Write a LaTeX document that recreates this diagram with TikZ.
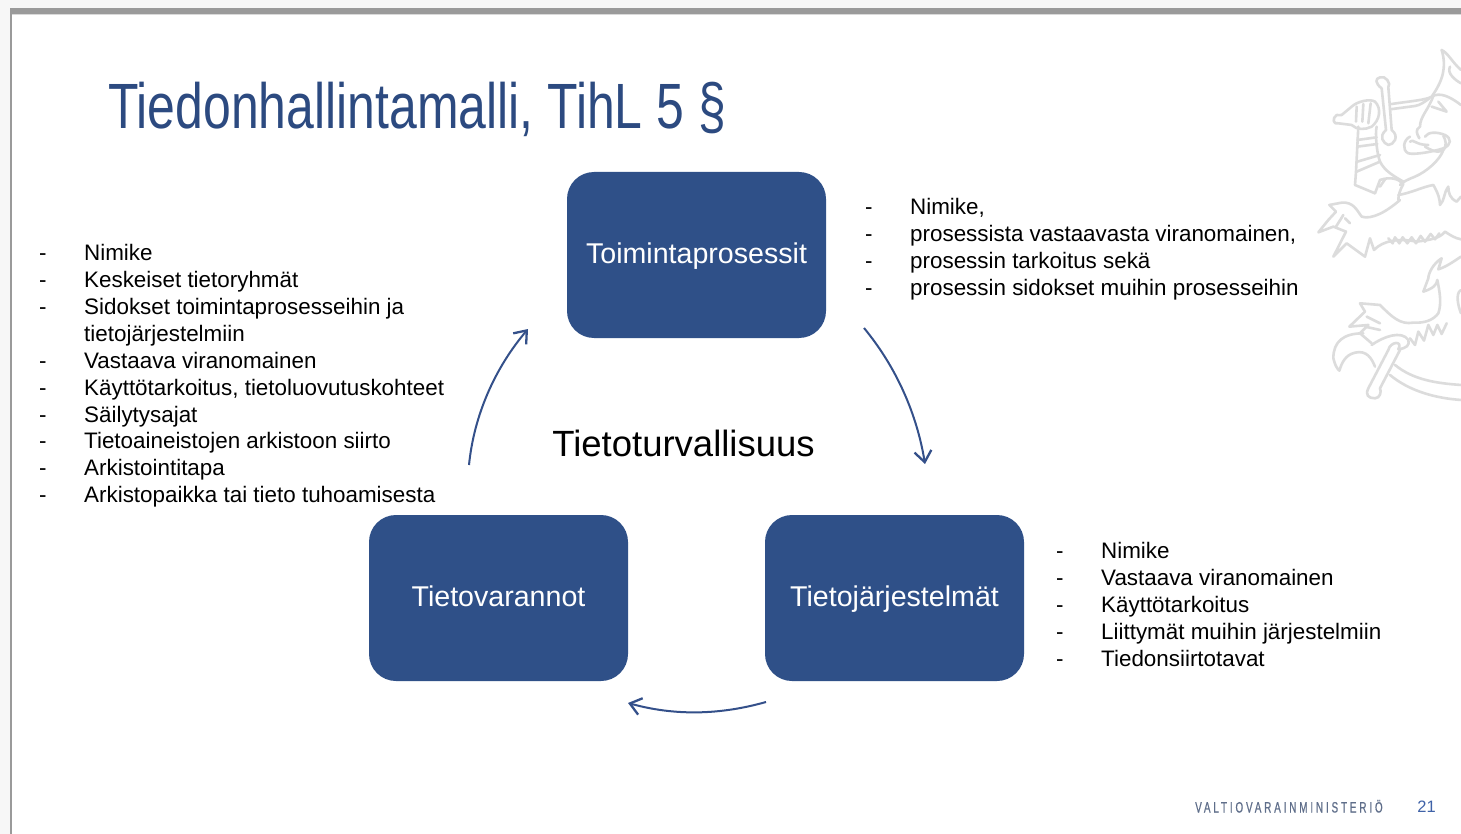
\documentclass[tikz,border=0pt]{standalone}
\usepackage{fontspec}
\setmainfont{Liberation Sans}
\newfontfamily\narrowf[FakeStretch=0.78]{Liberation Sans}
\newfontfamily\footf[FakeStretch=0.66,LetterSpace=19,FakeBold=0.6]{Liberation Sans}
\usetikzlibrary{arrows.meta}
\definecolor{boxblue}{HTML}{2F5088}
\definecolor{titleblue}{HTML}{2C4A80}
\definecolor{arrowblue}{HTML}{34508A}
\definecolor{lionline}{HTML}{DCDCDC}
\definecolor{framegray}{HTML}{9A9A9A}
\definecolor{footgray}{HTML}{5F6E8A}
\definecolor{pagenumblue}{HTML}{3F62A8}
\tikzset{
  procbox/.style={fill=boxblue,draw=none,rounded corners=27pt,minimum width=259pt,minimum height=166pt,text=white,font=\fontsize{28.6}{32}\selectfont,inner sep=0pt},
  boxtext/.style={text height=24pt,text depth=7pt},
  listnode/.style={anchor=north west,align=left,inner sep=0pt,font=\fontsize{22.4}{26.85}\selectfont,text=black},
  cyc/.style={draw=arrowblue,line width=2pt,-{Straight Barb[length=11pt,width=17pt,line width=2.3pt]}},
  lion/.style={draw=lionline,line width=2.6pt,line join=round,line cap=round}
}
\newcommand{\dd}{\makebox[45pt][l]{-}}
\newcommand{\nd}{\hspace*{45pt}}
\begin{document}
\begin{tikzpicture}[x=1pt,y=-1pt]
\useasboundingbox (0,0) rectangle (1461,834);
\fill[white] (0,0) rectangle (1461,834);
\fill[black!3] (0,0) rectangle (1461,8);
\fill[black!3] (0,0) rectangle (10,834);
\fill[framegray] (10,8) rectangle (1461,14);
\fill[black!15] (12,14) rectangle (1461,15);
\fill[framegray] (10,8) rectangle (12,834);
% lion emblem
\begin{scope}[shift={(1300,30)},x=0.3333pt,y=-0.3333pt]
\clip (0,0) rectangle (483,1170);
\draw[lion] (425,60) .. controls (445,70) and (455,95) .. (483,120);
\draw[lion] (425,60) .. controls (440,110) and (430,150) .. (395,200) .. controls (380,210) and (320,215) .. (275,222);
\draw[lion] (450,110) .. controls (440,130) and (465,150) .. (483,160);
\draw[lion] (395,200) .. controls (420,185) and (450,200) .. (483,225);
\draw[lion] (395,230) -- (440,245) -- (415,215);
\draw[lion] (400,198) .. controls (385,240) and (360,260) .. (360,290) .. controls (345,300) and (350,310) .. (358,325);
\draw[lion] (270,238) -- (345,228) .. controls (360,226) and (375,215) .. (388,205);
% sword crossguard and pommel
\draw[lion] (245,175) .. controls (225,160) and (225,145) .. (240,142) .. controls (255,135) and (275,160) .. (265,172) -- (275,300) .. controls (300,320) and (280,345) .. (265,345) .. controls (250,340) and (235,320) .. (258,300) -- (245,175);
% fist and pommel
\draw[lion] (110,255) .. controls (95,265) and (100,285) .. (115,280) -- (155,285) .. controls (170,300) and (195,300) .. (215,290) .. controls (240,270) and (245,235) .. (225,215) .. controls (210,205) and (170,215) .. (155,230) -- (125,255) .. controls (120,258) and (115,253) .. (110,255);
\draw[lion] (170,230) -- (168,275);
\draw[lion] (190,222) -- (187,275);
\draw[lion] (212,220) -- (205,280);
% arm armour
\draw[lion] (175,290) -- (168,425) -- (165,465) -- (225,490);
\draw[lion] (230,290) .. controls (225,310) and (230,370) .. (240,395) -- (170,425);
\draw[lion] (172,330) -- (230,322);
\draw[lion] (172,350) -- (232,342);
\draw[lion] (172,395) -- (240,375);
\draw[lion] (240,395) .. controls (255,425) and (285,440) .. (310,455);
\draw[lion] (225,490) -- (240,450) .. controls (270,440) and (295,445) .. (310,462) .. controls (300,480) and (295,495) .. (295,510);
\draw[lion] (240,470) -- (255,448);
% mouth and tongue
\draw[lion] (330,320) .. controls (310,330) and (305,360) .. (325,370) .. controls (345,375) and (400,365) .. (430,355) .. controls (455,345) and (455,325) .. (435,315) .. controls (410,305) and (385,305) .. (375,320);
\draw[lion] (375,350) .. controls (440,390) and (445,340) .. (430,318);
\draw[lion] (330,335) .. controls (340,325) and (345,345) .. (385,345);
\draw[lion] (430,360) .. controls (420,390) and (380,425) .. (345,440) .. controls (320,450) and (310,455) .. (300,465);
% chest and mane
\draw[lion] (295,495) .. controls (330,490) and (370,470) .. (400,465) .. controls (415,490) and (420,510) .. (420,525) .. controls (435,510) and (430,490) .. (445,470) .. controls (445,490) and (450,505) .. (470,515) -- (483,500);
% front foreleg and paw
\draw[lion] (300,510) .. controls (260,545) and (215,570) .. (185,560) .. controls (170,540) and (160,515) .. (125,518) -- (88,525) -- (108,545) -- (85,570) -- (55,607) -- (100,590) -- (138,605) -- (100,680) -- (140,640) -- (195,680) -- (210,625) -- (222,660) .. controls (250,630) and (300,625) .. (350,635) .. controls (390,630) and (420,625) .. (435,605) .. controls (450,615) and (465,625) .. (483,628);
\draw[lion] (130,555) -- (108,590);
\draw[lion] (150,580) -- (135,565);
\draw[lion] (265,625) -- (278,640) -- (285,622) -- (298,640) -- (308,622) -- (322,640) -- (335,622) -- (348,640) -- (362,618) -- (375,635) -- (392,612) -- (405,628) -- (418,610);
% tail flame
\draw[lion] (483,680) .. controls (460,695) and (440,710) .. (415,718) -- (425,685) .. controls (400,700) and (385,730) .. (385,745) -- (370,785) .. controls (400,775) and (410,765) .. (412,750) .. controls (420,790) and (425,820) .. (415,850) .. controls (400,870) and (375,880) .. (340,878) .. controls (300,885) and (275,860) .. (240,825) -- (180,820) -- (195,845) -- (148,890) -- (205,885) -- (180,910) -- (215,940);
\draw[lion] (483,780) .. controls (465,790) and (475,830) .. (483,850);
% hind paw and sword
\draw[lion] (190,910) .. controls (130,910) and (100,935) .. (100,985) .. controls (105,1005) and (110,1015) .. (118,1022) .. controls (125,1000) and (135,975) .. (165,968) .. controls (200,960) and (215,985) .. (225,1010);
\draw[lion] (215,945) .. controls (250,920) and (305,900) .. (325,930) .. controls (330,945) and (320,955) .. (295,958) .. controls (310,930) and (270,935) .. (265,960);
\draw[lion] (265,960) -- (205,1075) .. controls (195,1095) and (205,1105) .. (225,1105) .. controls (240,1105) and (245,1085) .. (240,1075) -- (300,960);
\draw[lion] (330,925) -- (345,945) -- (355,905) -- (372,932) -- (385,885) -- (400,915) -- (412,885) -- (425,912) -- (440,880);
\draw[lion] (285,1005) .. controls (340,1050) and (410,1060) .. (483,1065);
\draw[lion] (270,1035) .. controls (330,1085) and (410,1105) .. (483,1110);
\draw[lion] (200,860) -- (240,880);
\draw[lion] (195,890) -- (240,900);
\end{scope}
% title
\node[anchor=base west,inner sep=0pt,text=titleblue,font=\fontsize{64}{70}\selectfont\narrowf] (title) at (108,128.5) {Tiedonhallintamalli, TihL 5 §};
% boxes
\node[procbox,boxtext] (toim) at (696.5,255) {Toimintaprosessit};
\node[procbox,boxtext] (vara) at (498.5,598) {Tietovarannot};
\node[procbox,boxtext] (jarj) at (894.5,598) {Tietojärjestelmät};
\node[anchor=center,inner sep=0pt,font=\fontsize{36.5}{40}\selectfont] (turva) at (683.5,443) {Tietoturvallisuus};
% lists
\node[listnode] (listleft) at (39,244.5) {\dd Nimike\\
\dd Keskeiset tietoryhmät\\
\dd Sidokset toimintaprosesseihin ja\\
\nd tietojärjestelmiin\\
\dd Vastaava viranomainen\\
\dd Käyttötarkoitus, tietoluovutuskohteet\\
\dd Säilytysajat\\
\dd Tietoaineistojen arkistoon siirto\\
\dd Arkistointitapa\\
\dd Arkistopaikka tai tieto tuhoamisesta};
\node[listnode] (listtop) at (865,198.5) {\dd Nimike,\\
\dd prosessista vastaavasta viranomainen,\\
\dd prosessin tarkoitus sekä\\
\dd prosessin sidokset muihin prosesseihin};
\node[listnode] (listright) at (1056,542.3) {\dd Nimike\\
\dd Vastaava viranomainen\\
\dd Käyttötarkoitus\\
\dd Liittymät muihin järjestelmiin\\
\dd Tiedonsiirtotavat};
% cycle arrows
\coordinate (a1s) at (864,328);
\coordinate (a1e) at (925,464);
\coordinate (a2s) at (766,702);
\coordinate (a2e) at (628,703);
\coordinate (a3s) at (469,465);
\coordinate (a3e) at (528,329);
\draw[cyc] (a1s) .. controls (897,368) and (917,415) .. (a1e);
\draw[cyc] (a2s) .. controls (720,715) and (675,716) .. (a2e);
\draw[cyc] (a3s) .. controls (474,415) and (495,368) .. (a3e);
% footer
\node[anchor=base west,inner sep=0pt,text=footgray,font=\fontsize{15}{18}\selectfont\footf] (ministry) at (1195,812.5) {VALTIOVARAINMINISTERIÖ};
\node[anchor=base east,inner sep=0pt,text=pagenumblue,font=\fontsize{16.5}{18}\selectfont] (pagenum) at (1436,812.5) {21};
\end{tikzpicture}
\end{document}
